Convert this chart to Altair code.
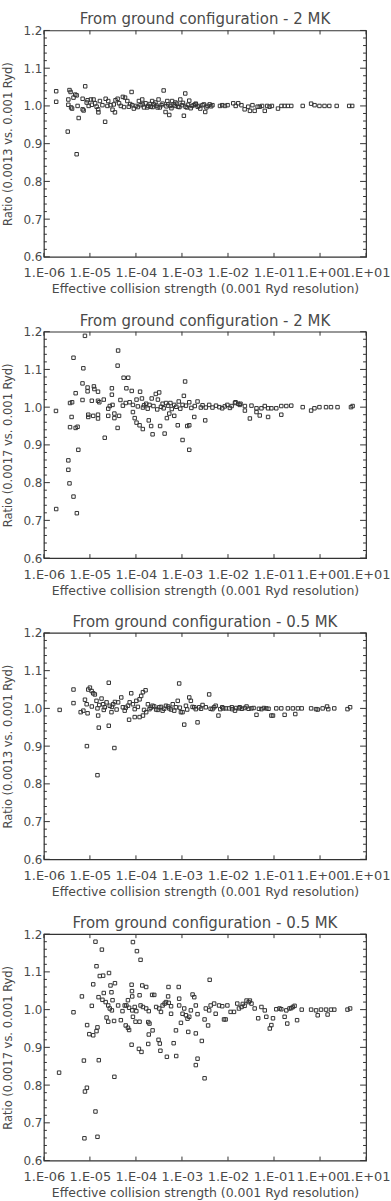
import altair as alt
import pandas as pd

# ---------------- data ----------------
# Panel 1: 0.0013 vs 0.001 Ryd, 2 MK
p1_x = [1.85e-6, 1.85e-6, 3.3e-6, 5.15e-6, 3.4e-6, 3.6e-6, 3.8e-6, 3.4e-6, 3.9e-6, 4.1e-6,
        4.4e-6, 4.8e-6, 5.15e-6, 5.4e-6, 5.7e-6, 6.95e-6, 7.3e-6, 7.9e-6, 6.95e-6, 8.5e-6,
        8.9e-6, 9.4e-6, 1.05e-5, 1.2e-5, 1.3e-5, 1.51e-5, 1.53e-5, 1.65e-5, 1.87e-5, 2.14e-5,
        2.2e-5, 2.5e-5, 2.8e-5, 3.1e-5, 3.5e-5, 3.6e-5, 4.0e-5, 4.3e-5, 4.7e-5, 5.2e-5,
        5.8e-5, 6.5e-5, 7.0e-5, 8.05e-5, 8.3e-5, 9.0e-5, 1.0e-4, 1.16e-4, 1.26e-4, 1.37e-4,
        1.5e-4, 1.62e-4, 1.85e-4, 2.1e-4, 2.25e-4, 2.45e-4, 2.65e-4, 2.95e-4, 3.1e-4, 3.6e-4,
        4.0e-4, 4.4e-4, 4.8e-4, 5.3e-4, 5.6e-4, 6.1e-4, 6.6e-4, 7.2e-4, 8.2e-4, 9.2e-4,
        1.0e-3, 1.1e-3, 1.18e-3, 1.28e-3, 1.44e-3, 1.65e-3, 1.94e-3, 2.2e-3, 2.5e-3, 2.8e-3,
        3.2e-3, 3.6e-3, 4.0e-3, 4.6e-3, 6.7e-3, 7.5e-3, 8.6e-3, 9.8e-3, 1.3e-2, 1.47e-2,
        1.67e-2, 1.96e-2, 2.3e-2, 2.75e-2, 3.0e-2, 3.4e-2, 3.8e-2, 4.4e-2, 4.9e-2, 5.5e-2,
        6.3e-2, 7.1e-2, 8.0e-2, 9.0e-2, 0.122, 0.145, 0.17, 0.20, 0.237, 0.42,
        0.64, 0.76, 0.97, 1.25, 1.59, 2.3, 4.3, 5.0,
        1.1e-5, 1.4e-5, 2.4e-5, 3.3e-5, 5.5e-5, 7.5e-5, 1.1e-4, 1.4e-4, 1.75e-4, 2.0e-4,
        2.3e-4, 2.8e-4, 3.3e-4, 3.8e-4, 4.6e-4, 5.0e-4, 5.9e-4, 7.0e-4, 7.8e-4, 8.8e-4,
        1.05e-3, 1.2e-3, 1.35e-3, 1.55e-3, 1.8e-3, 2.0e-3, 2.35e-3, 3.0e-3, 3.4e-3, 4.3e-3]
p1_y = [1.039, 1.011, 0.932, 0.872, 1.017, 1.042, 1.037, 1.003, 0.996, 0.993,
        1.022, 1.030, 1.028, 1.000, 0.968, 0.991, 0.988, 1.052, 1.019, 1.009,
        1.015, 1.000, 1.017, 1.017, 1.007, 0.991, 0.983, 1.013, 1.002, 0.958,
        1.019, 1.013, 1.002, 0.990, 0.983, 1.015, 1.019, 1.007, 1.000, 1.024,
        1.022, 1.013, 0.998, 1.037, 1.002, 0.993, 1.000, 1.013, 1.002, 1.017,
        0.996, 1.007, 1.000, 0.998, 1.013, 1.004, 1.009, 0.996, 1.017, 1.002,
        1.041, 0.984, 1.013, 0.976, 1.000, 1.013, 1.004, 1.009, 0.998, 1.017,
        1.002, 0.974, 1.033, 0.996, 1.014, 1.000, 1.004, 0.998, 0.993, 1.002,
        0.984, 1.000, 1.004, 1.002, 1.000, 1.002, 1.000, 1.002, 1.007, 1.000,
        1.007, 1.002, 0.991, 0.998, 0.987, 1.002, 0.987, 0.998, 0.998, 1.000,
        0.987, 1.000, 0.998, 1.000, 0.993, 1.000, 1.000, 1.000, 1.000, 1.000,
        1.006, 1.002, 1.000, 1.000, 1.000, 1.000, 1.000, 1.000,
        1.003, 0.998, 1.000, 1.004, 0.997, 1.005, 0.997, 1.004, 0.996, 1.005,
        0.997, 1.001, 0.996, 1.006, 0.999, 1.004, 0.994, 1.000, 1.006, 0.997,
        1.008, 0.998, 1.003, 0.994, 1.002, 1.006, 1.000, 1.004, 0.996, 0.999]

# Panel 2: 0.0017 vs 0.001 Ryd, 2 MK
p2_x = [1.83e-6, 7.8e-6, 4.4e-6, 7.2e-6, 4.1e-5, 4.0e-5, 5.4e-5, 6.8e-5, 1.17e-3, 6.9e-6,
        4.9e-6, 8.9e-6, 8.9e-6, 1.22e-5, 1.25e-5, 1.5e-5, 3.0e-5, 3.0e-5, 6.2e-5, 8.1e-5,
        1.23e-4, 6.9e-6, 3.7e-6, 4.1e-6, 1.1e-5, 1.5e-5, 1.6e-5, 2.0e-5, 2.5e-5, 2.7e-5,
        3.1e-5, 4.6e-5, 5.2e-5, 6.0e-5, 7.3e-5, 8.6e-5, 1.03e-4, 1.35e-4, 1.42e-4, 1.67e-4,
        1.97e-4, 2.2e-4, 2.7e-4, 3.0e-4, 3.2e-4, 3.8e-4, 4.5e-4, 5.6e-4, 6.8e-4, 8.5e-4,
        1.1e-3, 1.03e-3, 1.22e-3, 1.44e-3, 2.18e-3, 2.57e-3, 3.3e-3, 3.9e-3, 4.6e-3, 7.5e-3,
        9.7e-3, 1.46e-2, 1.87e-2,
        4.0e-6, 3.7e-6, 4.9e-6, 5.4e-6, 5.6e-6, 9.2e-6, 9.2e-6, 1.18e-5, 1.5e-5, 1.5e-5,
        2.1e-5, 2.5e-5, 3.4e-5, 3.4e-5, 4.0e-5, 4.3e-5, 8.6e-5, 9.4e-5, 1.03e-4, 1.2e-4,
        1.41e-4, 1.9e-4, 2.14e-4, 2.3e-4, 3.35e-4, 4.2e-4, 4.7e-4, 5.3e-4, 6.8e-4, 8.1e-4,
        1.03e-3, 1.3e-3, 1.44e-3, 1.44e-3, 1.85e-3, 3.2e-3,
        1.85e-6, 3.4e-6, 3.4e-6, 3.6e-6, 4.4e-6, 5.2e-6,
        0.012, 0.0142, 0.0167, 0.018, 0.0233, 0.0233, 0.0299, 0.0324, 0.0416, 0.0416,
        0.049, 0.0533, 0.063, 0.0743, 0.0743, 0.0876, 0.112, 0.144, 0.144, 0.185,
        0.237, 0.42, 0.64, 0.755, 0.97, 1.35, 1.73, 2.4, 4.7, 5.1,
        1.1e-4, 1.5e-4, 1.8e-4, 2.4e-4, 2.9e-4, 3.5e-4, 4.0e-4, 5.0e-4, 6.0e-4, 7.5e-4,
        9.2e-4, 1.6e-3, 1.9e-3, 2.8e-3, 5.5e-3, 6.5e-3, 8.5e-3, 1.1e-2]
p2_y = [0.990, 1.189, 1.131, 1.103, 1.150, 1.110, 1.078, 1.078, 1.068, 1.063,
        1.037, 1.052, 1.042, 1.055, 1.048, 1.041, 1.050, 1.033, 1.050, 1.043,
        1.041, 1.019, 1.011, 1.013, 1.017, 1.017, 1.013, 1.020, 0.996, 1.003,
        1.006, 1.019, 1.004, 1.011, 1.013, 1.006, 1.020, 1.023, 0.999, 1.009,
        1.006, 1.023, 1.035, 1.020, 1.039, 1.009, 1.011, 1.011, 1.006, 1.015,
        1.030, 1.006, 1.004, 1.013, 1.015, 0.999, 0.999, 1.006, 0.999, 0.997,
        1.006, 1.013, 1.009,
        0.974, 0.947, 0.945, 0.948, 0.887, 0.980, 0.974, 0.977, 0.980, 0.970,
        0.919, 0.977, 0.971, 0.983, 0.945, 0.977, 0.987, 0.971, 0.959, 0.952,
        0.942, 0.965, 0.950, 0.928, 0.950, 0.930, 0.971, 0.983, 0.977, 0.952,
        0.913, 0.950, 0.952, 0.887, 0.974, 0.965,
        0.730, 0.859, 0.834, 0.798, 0.763, 0.719,
        1.003, 1.011, 1.009, 1.006, 1.003, 0.991, 0.970, 1.004, 0.997, 0.987,
        0.978, 0.997, 1.003, 0.997, 0.974, 0.997, 0.997, 1.003, 0.980, 1.003,
        1.004, 1.000, 0.991, 0.997, 1.000, 1.000, 1.000, 1.000, 1.000, 1.003,
        1.002, 1.005, 0.996, 1.003, 0.994, 1.001, 0.997, 1.004, 0.995, 1.001,
        0.996, 0.998, 1.003, 1.005, 1.004, 1.000, 1.002, 0.998]

# Panel 3: 0.0013 vs 0.001 Ryd, 0.5 MK
p3_x = [2.2e-6, 4.4e-6, 4.4e-6, 6.3e-6, 7.2e-6, 7.8e-6, 8.5e-6, 8.9e-6, 9.2e-6, 1.0e-5,
        1.09e-5, 1.18e-5, 1.28e-5, 1.39e-5, 1.46e-5, 1.51e-5, 1.56e-5, 1.59e-5, 1.79e-5, 1.94e-5,
        2.1e-5, 2.3e-5, 2.57e-5, 2.57e-5, 2.7e-5, 2.94e-5, 3.2e-5, 3.5e-5, 4.1e-5, 4.8e-5,
        5.2e-5, 5.7e-5, 6.7e-5, 7.3e-5, 7.9e-5, 8.6e-5, 7.1e-5, 9.4e-5, 1.2e-4, 1.42e-4,
        1.67e-4, 9.4e-5, 1.02e-4, 1.2e-4, 1.3e-4, 1.42e-4, 1.62e-4, 1.82e-4, 1.97e-4, 2.3e-4,
        2.75e-4, 3.2e-4, 3.8e-4, 4.5e-4, 5.3e-4, 6.3e-4, 6.8e-4, 8.1e-4, 8.7e-4, 9.5e-4,
        1.03e-3, 1.12e-3, 1.22e-3, 1.44e-3, 1.56e-3, 1.85e-3, 2.18e-3, 2.37e-3, 2.8e-3, 3.9e-3,
        4.6e-3, 5.4e-3, 7.5e-3, 1.05e-2, 1.24e-2, 1.73e-2, 6.2e-3, 7.9e-3, 1.21e-2, 1.42e-2,
        1.8e-2,
        0.0253, 0.0324, 0.0416, 0.0533, 0.068, 0.0876, 0.095, 0.112, 0.144, 0.17,
        0.20, 0.257, 0.29, 0.33, 0.40, 0.64, 0.82, 0.89, 1.14, 1.42,
        1.51, 2.04, 3.95, 4.5,
        8.6e-6, 1.46e-5, 3.4e-5,
        1.1e-5, 2.0e-5, 3.0e-5, 3.8e-5, 6.0e-5, 1.1e-4, 1.5e-4, 2.1e-4, 2.5e-4, 3.0e-4,
        3.5e-4, 4.1e-4, 5.0e-4, 5.8e-4, 7.4e-4, 9.0e-4, 1.3e-3, 1.7e-3, 2.0e-3, 2.6e-3,
        3.3e-3, 4.2e-3, 5.0e-3, 6.8e-3, 9.0e-3, 1.5e-2, 2.0e-2, 2.3e-2, 2.8e-2, 3.6e-2,
        4.7e-2, 6.0e-2, 7.6e-2]
p3_y = [0.996, 1.050, 1.014, 0.990, 0.994, 1.023, 1.011, 0.987, 1.050, 1.055,
        1.046, 1.040, 1.037, 1.020, 1.000, 0.981, 0.949, 1.009, 1.026, 1.011,
        1.003, 1.016, 1.068, 0.954, 1.007, 0.990, 1.011, 1.017, 1.016, 1.029,
        1.003, 0.994, 1.007, 1.016, 1.040, 1.011, 0.970, 0.977, 0.977, 0.981,
        0.990, 0.998, 1.020, 1.024, 1.033, 1.043, 1.048, 1.011, 0.998, 1.007,
        0.997, 1.003, 0.994, 1.007, 1.000, 1.011, 0.994, 1.020, 1.066, 0.990,
        0.990, 0.957, 1.007, 1.029, 1.020, 1.003, 0.963, 1.003, 1.009, 1.037,
        0.998, 1.007, 1.003, 1.000, 0.998, 1.000, 0.981, 1.000, 1.003, 0.994,
        1.003,
        1.005, 1.000, 0.983, 0.998, 1.000, 0.981, 0.981, 1.000, 1.000, 0.983,
        1.000, 1.000, 0.985, 1.000, 1.000, 1.000, 0.998, 0.997, 1.000, 1.005,
        0.998, 1.000, 0.998, 1.003,
        0.900, 0.823, 0.895,
        1.005, 0.996, 1.004, 0.997, 1.002, 1.004, 0.996, 1.002, 1.005, 0.996,
        1.004, 0.999, 1.005, 0.997, 1.003, 1.002, 0.997, 1.004, 0.998, 0.999,
        1.003, 0.999, 1.003, 0.998, 1.000, 1.001, 0.999, 1.001, 0.999, 1.001,
        0.999, 1.001, 0.999]

# Panel 4: 0.0017 vs 0.001 Ryd, 0.5 MK
p4_x = [2.14e-6, 7.4e-6, 7.8e-6, 8.6e-6, 1.56e-5, 1.32e-5, 7.6e-6, 1.46e-5, 3.4e-5, 8.05e-5,
        1.16e-4, 1.32e-4, 1.85e-4, 3.1e-4, 3.3e-4, 3.4e-4, 4.7e-4, 6.6e-4, 7.5e-4, 2.0e-3,
        2.18e-3, 2.7e-3, 3.1e-3,
        4.4e-6, 6.7e-6, 8.7e-6, 9.7e-6, 1.32e-5, 1.82e-5, 1.39e-5, 1.64e-5, 1.94e-5, 2.6e-5,
        1.18e-5, 1.1e-5, 1.18e-5, 1.39e-5, 1.46e-5,
        1.54e-5, 1.87e-5, 2.0e-5, 2.2e-5, 2.5e-5, 2.8e-5, 2.94e-5, 3.5e-5, 3.1e-5, 2.7e-5,
        3.0e-5, 4.1e-5, 2.3e-5, 2.5e-5, 3.35e-5, 4.7e-5,
        5.1e-5, 5.7e-5, 6.2e-5, 6.7e-5, 7.1e-5, 6.0e-5, 6.7e-5, 7.1e-5,
        8.05e-5, 8.2e-5, 8.6e-5, 1.05e-4, 1.26e-4, 8.3e-5, 9.4e-5, 1.02e-4, 8.3e-5, 8.6e-5,
        9.8e-5, 1.2e-4, 1.2e-4, 1.37e-4, 1.67e-4, 1.26e-4, 1.42e-4, 1.67e-4, 1.9e-4, 1.85e-4,
        1.97e-4, 1.9e-4, 2.3e-4, 2.25e-4, 2.5e-4,
        2.75e-4, 3.2e-4, 3.5e-4, 3.8e-4, 4.2e-4, 4.5e-4, 5.15e-4, 5.8e-4, 5.1e-4, 5.0e-4,
        5.8e-4, 7.4e-4, 8.5e-4, 8.7e-4, 8.7e-4, 9.5e-4, 1.03e-3,
        1.12e-3, 1.22e-3, 1.32e-3, 1.44e-3, 1.56e-3, 1.7e-3, 1.85e-3, 2.0e-3, 1.37e-3, 2.0e-3,
        2.18e-3, 3.1e-3, 3.7e-3, 3.3e-3, 3.9e-3, 4.2e-3, 5.0e-3, 5.4e-3, 4.0e-3,
        6.4e-3, 7.5e-3, 8.2e-3, 8.9e-3, 9.7e-3, 1.14e-2, 1.35e-2, 1.59e-2, 1.73e-2, 1.97e-2,
        0.021, 0.023, 0.0253, 0.0281, 0.0299, 0.0324, 0.038, 0.0453, 0.0533, 0.063,
        0.068, 0.081, 0.0876, 0.095, 0.112, 0.132, 0.144, 0.17, 0.185, 0.194,
        0.217, 0.237, 0.257, 0.28, 0.317, 0.40, 0.64, 0.82, 0.89, 1.05,
        1.35, 1.46, 1.73, 2.04, 3.95, 4.5]
p4_y = [0.833, 0.865, 0.783, 0.793, 0.866, 0.730, 0.659, 0.663, 0.822, 0.907,
        0.896, 0.888, 0.909, 0.920, 0.910, 0.891, 0.875, 0.911, 0.877, 0.853,
        0.870, 0.917, 0.818,
        0.993, 1.035, 0.959, 0.935, 1.180, 1.159, 1.115, 1.089, 1.090, 1.097,
        1.067, 1.010, 0.932, 0.943, 0.953,
        1.033, 1.026, 1.044, 1.020, 1.011, 1.064, 1.046, 1.070, 1.025, 1.003,
        0.998, 1.011, 0.979, 0.968, 0.970, 0.972,
        0.996, 1.011, 1.011, 1.025, 1.005, 0.958, 0.952, 0.946,
        1.066, 1.049, 1.179, 1.155, 1.132, 1.035, 1.007, 0.996, 0.998, 0.981,
        0.968, 0.968, 1.038, 1.064, 1.060, 1.011, 1.007, 1.003, 0.996, 0.967,
        0.963, 0.934, 0.945, 1.039, 1.039,
        1.007, 1.003, 0.994, 1.011, 1.016, 1.020, 1.018, 1.009, 1.060, 1.035,
        0.989, 0.945, 1.060, 1.029, 1.011, 0.965, 0.989,
        1.003, 0.985, 0.976, 0.981, 0.998, 1.040, 1.033, 1.011, 0.941, 0.937,
        0.988, 0.974, 0.958, 1.003, 0.998, 1.011, 1.016, 0.989, 1.079,
        1.011, 1.009, 0.974, 0.974, 1.011, 0.994, 0.994, 1.016, 1.003, 1.007,
        1.015, 1.010, 1.024, 1.020, 1.024, 1.016, 1.003, 0.977, 1.007, 0.998,
        0.981, 0.950, 0.959, 0.977, 1.001, 1.003, 1.001, 0.981, 0.998, 0.963,
        1.003, 1.004, 1.007, 1.010, 0.972, 1.000, 1.000, 0.998, 0.985, 1.000,
        1.000, 0.987, 1.000, 1.000, 1.000, 1.003]

panel_x = [p1_x, p2_x, p3_x, p4_x]
panel_y = [p1_y, p2_y, p3_y, p4_y]

titles = ["From ground configuration - 2 MK", "From ground configuration - 2 MK",
          "From ground configuration - 0.5 MK", "From ground configuration - 0.5 MK"]
y_titles = ["Ratio (0.0013 vs. 0.001 Ryd)", "Ratio (0.0017 vs. 0.001 Ryd)",
            "Ratio (0.0013 vs. 0.001 Ryd)", "Ratio (0.0017 vs. 0.001 Ryd)"]
x_title = "Effective collision strength (0.001 Ryd resolution)"

x_tick_values = [1e-6, 1e-5, 1e-4, 1e-3, 1e-2, 1e-1, 1e0, 1e1]
x_tick_labels = ["1.E-06", "1.E-05", "1.E-04", "1.E-03", "1.E-02", "1.E-01", "1.E+00", "1.E+01"]
y_tick_values = [0.6, 0.7, 0.8, 0.9, 1.0, 1.1, 1.2]
y_minor_values = [0.62, 0.64, 0.66, 0.68, 0.72, 0.74, 0.76, 0.78, 0.82, 0.84, 0.86, 0.88,
                  0.92, 0.94, 0.96, 0.98, 1.02, 1.04, 1.06, 1.08, 1.12, 1.14, 1.16, 1.18]

# ---------------- styling ----------------
W, H = 323, 227
FONT = "DejaVu Sans"
INK = "#333333"
TXT = "#4a4a4a"

label_expr = "[" + ",".join("'%s'" % s for s in x_tick_labels) + "][round(log(datum.value)/LN10)+6]"

xscale = alt.Scale(type="log", domain=[x_tick_values[0], x_tick_values[-1]], nice=False)
yscale = alt.Scale(domain=[y_tick_values[0], y_tick_values[-1]], nice=False, zero=False)


def panel(xs, ys, title, ytitle):
    xaxis = alt.Axis(
        values=x_tick_values, labelExpr=label_expr, title=x_title,
        ticks=False, domain=False, grid=False, labelOverlap=False, labelFlush=False,
        labelFontSize=13, titleFontSize=12.5, labelPadding=10, titlePadding=3,
        labelColor=TXT, titleColor=TXT, titleFontWeight="normal")
    yaxis = alt.Axis(
        values=y_tick_values, format=".1f", title=ytitle,
        ticks=False, domain=False, grid=False, labelOverlap=False, labelFlush=False,
        labelFontSize=12, titleFontSize=11.5, labelPadding=2, titlePadding=9,
        labelColor=TXT, titleColor=TXT, titleFontWeight="normal")
    xe = alt.X("x:Q", scale=xscale, axis=xaxis)
    ye = alt.Y("y:Q", scale=yscale, axis=yaxis)

    df = pd.DataFrame({"x": xs, "y": ys})
    pts = alt.Chart(df).mark_point(
        shape="square", filled=False, size=12, strokeWidth=1, color=INK, opacity=1
    ).encode(x=xe, y=ye)
    xt = pd.DataFrame({"x": x_tick_values})
    yt = pd.DataFrame({"y": y_tick_values})
    ym = pd.DataFrame({"y": y_minor_values})
    bottom = alt.Chart(xt).mark_rule(color=INK).encode(x=xe, y=alt.value(H), y2=alt.value(H - 4))
    top = alt.Chart(xt).mark_rule(color=INK).encode(x=xe, y=alt.value(0), y2=alt.value(4))
    left = alt.Chart(yt).mark_rule(color=INK).encode(y=ye, x=alt.value(0), x2=alt.value(6))
    right = alt.Chart(yt).mark_rule(color=INK).encode(y=ye, x=alt.value(W), x2=alt.value(W - 6))
    leftm = alt.Chart(ym).mark_rule(color=INK).encode(y=ye, x=alt.value(0), x2=alt.value(3))
    rightm = alt.Chart(ym).mark_rule(color=INK).encode(y=ye, x=alt.value(W), x2=alt.value(W - 3))
    return alt.layer(pts, bottom, top, left, right, leftm, rightm).properties(
        width=W, height=H,
        title=alt.TitleParams(title, fontSize=15, fontWeight="normal", color=TXT,
                              offset=-3, anchor="middle", frame="group"),
    )


panels = [panel(panel_x[i], panel_y[i], titles[i], y_titles[i]) for i in range(4)]

chart = alt.vconcat(*panels, spacing=16).configure(
    font=FONT, padding={"left": 2, "top": 10, "right": 0, "bottom": 0}
).configure_view(stroke=INK, strokeWidth=1.2)

chart.save("out.html", embed_options={"renderer": "svg", "actions": False})
